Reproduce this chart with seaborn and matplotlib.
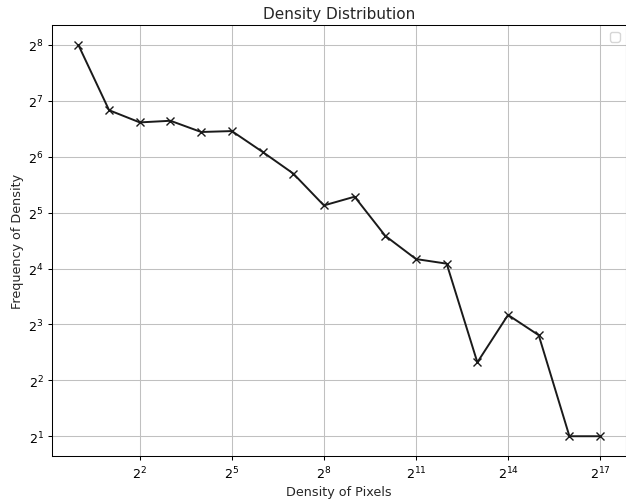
import matplotlib
matplotlib.use("Agg")
import matplotlib.pyplot as plt
import seaborn as sns
import pandas as pd

exponents = list(range(0, 18))
density = [2 ** e for e in exponents]
frequency = [256, 114, 98, 100, 87, 88, 68, 52, 35, 39, 24, 18, 17, 5, 9, 7, 2, 2]
x_tick_exps = [2, 5, 8, 11, 14, 17]
y_tick_exps = [1, 2, 3, 4, 5, 6, 7, 8]

df = pd.DataFrame({"density": density, "frequency": frequency})

sns.set_style("ticks")
plt.rcParams["font.family"] = ["DejaVu Sans"]

W, H = 626, 502
fig = plt.figure(figsize=(W / 100, H / 100), dpi=100)
left, right, top, bottom = 52.3, 626.2, 26.4, 456.8
ax = fig.add_axes([left / W, (H - bottom) / H, (right - left) / W, (bottom - top) / H])

sns.lineplot(data=df, x="density", y="frequency", ax=ax, color="#1a1a1a",
             marker="x", markersize=5.5, markeredgecolor="#1a1a1a",
             markeredgewidth=1.0, linewidth=1.4)
ax.set_xscale("log", base=2)
ax.set_yscale("log", base=2)
ax.set_xticks([2 ** e for e in x_tick_exps])
ax.set_xticklabels([f"$\\mathdefault{{2^{{{e}}}}}$" for e in x_tick_exps])
ax.set_yticks([2 ** e for e in y_tick_exps])
ax.set_yticklabels([f"$\\mathdefault{{2^{{{e}}}}}$" for e in y_tick_exps])
ax.minorticks_off()
ax.margins(0.05)
ax.grid(True, color="#c0c0c0", linewidth=0.75)
for s in ax.spines.values():
    s.set_color("black")
    s.set_linewidth(0.75)
ax.tick_params(colors="black", labelsize=9.2, length=3.2, width=0.75, pad=3)
ax.set_title("Density Distribution", fontsize=11, pad=5)
ax.set_xlabel("Density of Pixels", fontsize=9.2, labelpad=3)
ax.set_ylabel("Frequency of Density", fontsize=9.2, labelpad=3)
ax.legend(handles=[], loc="upper right", fontsize=9.2)

fig.savefig("out.png", dpi=100)
